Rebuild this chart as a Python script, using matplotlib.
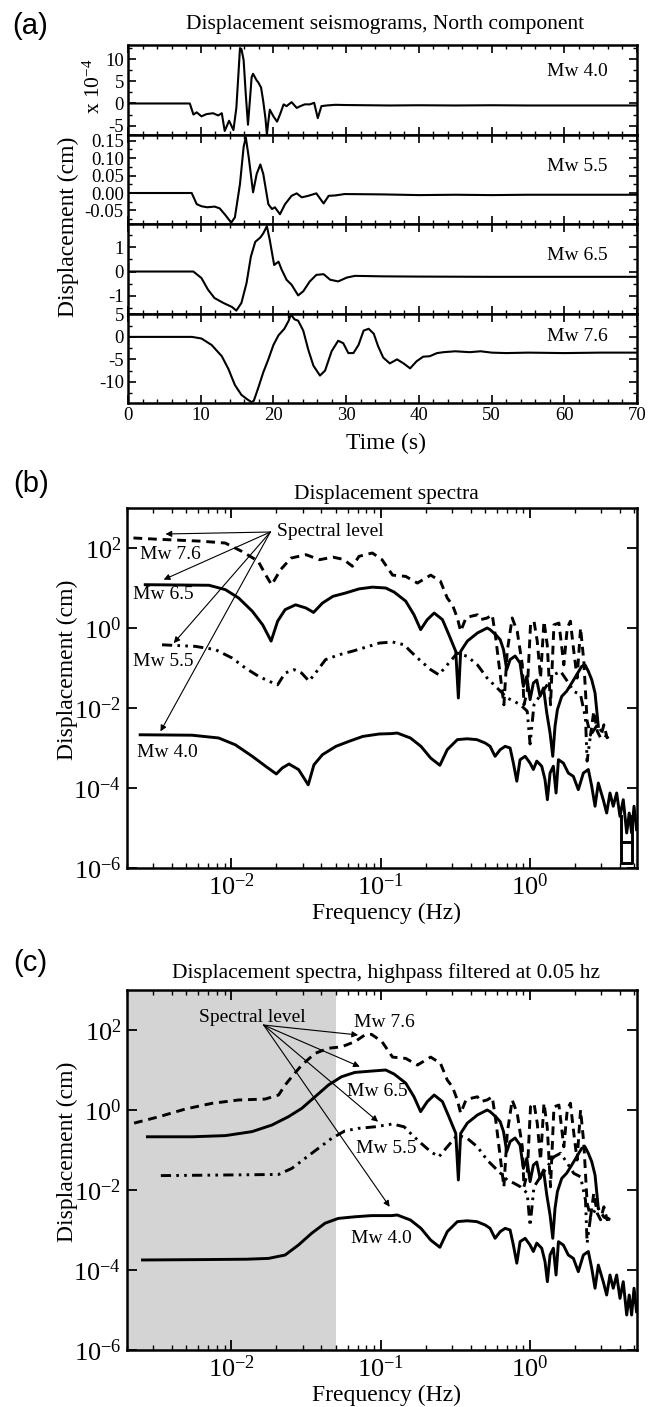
import numpy as np
import matplotlib
matplotlib.use('Agg')
import matplotlib.pyplot as plt
import matplotlib.ticker as ticker

params = {'font.family': 'Liberation Serif',
          'mathtext.fontset': 'custom',
          'mathtext.rm': 'Liberation Serif',
          'mathtext.it': 'Liberation Serif:italic',
          'mathtext.bf': 'Liberation Serif:bold',
          'axes.unicode_minus': False,
          'axes.linewidth': 1.8,
          'xtick.direction': 'in',
          'ytick.direction': 'in',
          'xtick.top': True,
          'ytick.right': True}
plt.rcParams.update(params)

W, H = 662, 1407

# ---- (a) seismograms ----
t40 = [0, 8.5, 9.0, 9.45, 10.1, 10.8, 11.7, 12.4, 12.9, 13.3, 13.9, 14.5, 14.9, 15.2, 15.4, 15.6,
       15.9, 16.2, 16.5, 16.8, 17.0, 17.2, 17.7, 17.9, 18.3, 18.6, 18.9, 19.1, 19.3, 19.5, 20.0,
       20.5, 20.9, 21.4, 21.8, 22.5, 23.2, 23.7, 24.3, 25.0, 25.6, 26.1, 26.6, 27.3, 28.5, 30,
       33, 36, 40, 45, 50, 55, 60, 65, 70]
d40 = [0, 0, -2.5, -2.0, -2.9, -2.4, -2.2, -2.7, -2.2, -6.2, -3.9, -6.0, -1.0, 7.0, 12.5, 12.3,
       9.8, 2.0, -4.8, 1.5, 5.9, 6.7, 5.2, 4.8, 3.6, 0.5, -3.3, -7.0, -4.1, -1.4, -2.9,
       -4.1, -2.5, -0.2, -0.6, 0.3, -1.0, -0.6, -0.2, -0.2, 0.15, -3.3, -0.6, -0.45, -0.3, -0.35,
       -0.4, -0.45, -0.4, -0.45, -0.4, -0.45, -0.45, -0.45, -0.45]

t55 = [0, 8.76, 9.45, 10.1, 10.9, 11.9, 12.6, 13.3, 14.2, 14.7, 15.4, 15.9, 16.2, 16.6, 17.2,
       17.7, 18.2, 18.6, 19.3, 19.8, 20.2, 20.9, 21.6, 22.5, 23.2, 23.9, 24.8, 25.9, 26.9, 27.6,
       28.5, 29.8, 35, 40, 45, 50, 55, 60, 65, 70]
d55 = [0, 0, -0.032, -0.038, -0.041, -0.039, -0.044, -0.061, -0.085, -0.070, 0.026, 0.132, 0.16,
       0.103, 0.002, 0.055, 0.082, 0.055, -0.032, -0.046, -0.041, -0.061, -0.032, -0.008, -0.001,
       -0.0125, -0.008, -0.001, -0.030, -0.008, -0.007, -0.003, -0.004, -0.006, -0.005, -0.006,
       -0.005, -0.005, -0.005, -0.005]

t65 = [0, 8.99, 10.1, 11.0, 11.9, 13.1, 14.3, 14.9, 15.6, 16.3, 16.9, 17.5, 18.2, 18.6, 19.1,
       19.5, 20.1, 20.7, 21.1, 21.8, 22.5, 23.4, 24.1, 25.0, 25.9, 26.9, 27.8, 28.9, 30.1, 31.2,
       35, 40, 50, 60, 70]
d65 = [0, 0, -0.27, -0.75, -1.10, -1.30, -1.47, -1.62, -1.30, -0.48, 0.62, 1.23, 1.41, 1.58,
       1.88, 1.30, 0.27, 0.41, 0.10, -0.34, -0.55, -0.99, -0.82, -0.41, -0.14, -0.11, -0.34,
       -0.41, -0.25, -0.18, -0.2, -0.21, -0.22, -0.22, -0.22]

t76 = [0, 8.8, 10.1, 11.5, 12.9, 13.8, 14.7, 15.6, 16.5, 17.0, 17.3, 17.9, 18.6, 19.3, 20.0,
       20.7, 21.5, 22.1, 22.4, 22.9, 23.4, 24.1, 24.8, 25.5, 26.4, 27.1, 28.0, 28.9, 29.6, 30.3,
       31.0, 31.7, 32.4, 33.1, 33.8, 34.4, 35.1, 36.0, 37.0, 37.9, 38.8, 39.7, 40.6, 41.5, 42.5,
       43.4, 45, 47, 48.5, 50, 52, 55, 60, 65, 70]
d76 = [0, 0, -0.36, -1.8, -4.3, -7.1, -10.7, -12.9, -14.0, -14.5, -14.2, -11.4, -7.9, -5.0, -1.8,
       0.36, 1.8, 3.6, 5.0, 3.9, 3.6, 1.4, -2.9, -6.4, -8.6, -7.5, -3.2, -0.86, -1.4, -3.6,
       -3.6, -1.8, 1.4, 1.8, 0.7, -2.1, -4.6, -5.9, -5.0, -5.9, -7.0, -5.4, -4.4, -4.3, -3.6,
       -3.4, -3.2, -3.4, -3.2, -3.5, -3.6, -3.5, -3.6, -3.5, -3.5]

seis_t = [t40, t55, t65, t76]
seis_d = [d40, d55, d65, d76]
seis_names = ['Mw 4.0', 'Mw 5.5', 'Mw 6.5', 'Mw 7.6']
seis_ylim = [(-7.0, 13.2), (-0.089, 0.168), (-1.74, 1.97), (-14.7, 5.2)]
seis_major = [5, 0.05, 1, 5]
seis_minor = [2.5, 0.025, 0.5, 2.5]
seis_fmt = ['%g', '%.2f', '%g', '%g']

# ---- (b)/(c) spectra ----
# low frequency part, raw spectra (b)
f76_raw = [0.00221, 0.00316, 0.0063, 0.0091, 0.0117, 0.0151, 0.0170, 0.0186, 0.0214, 0.0251,
           0.0316, 0.0389, 0.0479, 0.0562, 0.0646, 0.0716, 0.0879]
a76_raw = [178, 166, 148, 133, 83, 47, 21, 12, 29, 56, 68, 51, 59, 52, 35, 62, 75]
f65_raw = [0.00265, 0.00708, 0.00912, 0.0112, 0.0138, 0.0162, 0.01845, 0.0204, 0.0229, 0.0269,
           0.0316, 0.0355, 0.0407, 0.0479, 0.0582, 0.0716, 0.0879]
a65_raw = [12.1, 11.7, 9.1, 5.6, 2.63, 1.2, 0.47, 1.48, 2.88, 3.8, 3.16, 2.45, 4.2, 6.2, 7.5,
           9.5, 10.5]
f55_raw = [0.00343, 0.00575, 0.00782, 0.0101, 0.0124, 0.01524, 0.0178, 0.0204, 0.0229, 0.0263,
           0.0295, 0.0331, 0.0366, 0.0427, 0.0525, 0.0646, 0.0794, 0.0977]
a55_raw = [0.38, 0.347, 0.288, 0.178, 0.1, 0.0617, 0.047, 0.038, 0.075, 0.091, 0.075, 0.047,
           0.075, 0.162, 0.214, 0.263, 0.331, 0.42]
f40_raw = [0.00245, 0.00544, 0.00822, 0.01064, 0.0138, 0.017, 0.020, 0.0219, 0.0243, 0.0282,
           0.0327, 0.0357, 0.0407, 0.0501, 0.0617, 0.0759, 0.0977]
a40_raw = [2.14e-3, 2.09e-3, 1.78e-3, 1.2e-3, 6.2e-4, 3.47e-4, 2.24e-4, 3.16e-4, 3.98e-4,
           2.88e-4, 1.2e-4, 3.8e-4, 6.8e-4, 1.1e-3, 1.48e-3, 1.95e-3, 2.24e-3]
# little box drawn at the end of the Mw 4.0 trace in (b)
box_f = [4.05, 4.05, 4.85, 4.85, np.nan, 4.05, 4.85]
box_a = [2.0e-5, 1.3e-6, 1.3e-6, 2.0e-5, np.nan, 4.5e-6, 4.5e-6]

# low frequency part, highpass filtered spectra (c)
f76_filt = [0.00223, 0.00328, 0.00493, 0.00743, 0.0112, 0.01687, 0.0207, 0.0229, 0.0254, 0.0296,
            0.0363, 0.0446, 0.0547, 0.0671, 0.0782, 0.0867]
a76_filt = [0.47, 0.68, 1.06, 1.47, 1.78, 1.88, 2.37, 4.2, 6.8, 13.3, 26, 35, 38, 51, 75, 78]
f65_filt = [0.00274, 0.00547, 0.00912, 0.01374, 0.01866, 0.0241, 0.0296, 0.0363, 0.0446, 0.0547,
            0.0671, 0.0867]
a65_filt = [0.214, 0.214, 0.229, 0.288, 0.42, 0.68, 1.1, 2.14, 4.2, 6.8, 8.7, 9.4]
f55_filt = [0.00337, 0.0063, 0.0126, 0.0207, 0.0254, 0.0311, 0.0382, 0.0469, 0.0575, 0.0706,
            0.0912]
a55_filt = [0.0229, 0.0234, 0.024, 0.0245, 0.0347, 0.0617, 0.11, 0.195, 0.3, 0.347, 0.38]
f40_filt = [0.00254, 0.0063, 0.0126, 0.01774, 0.0229, 0.0281, 0.0345, 0.0424, 0.052, 0.0671,
            0.0867]
a40_filt = [1.78e-4, 1.82e-4, 1.86e-4, 1.95e-4, 2.37e-4, 4.2e-4, 8.3e-4, 1.48e-3, 1.95e-3,
            2.14e-3, 2.29e-3]

# high frequency part, the same in (b) and (c)
f76_hi = [0.102, 0.120, 0.147, 0.176, 0.216, 0.251, 0.279, 0.302, 0.326, 0.343, 0.372, 0.40,
          0.444, 0.468, 0.516, 0.558, 0.589, 0.635, 0.668, 0.703, 0.759, 0.82, 0.887, 0.91,
          0.957, 1.007, 1.062, 1.117, 1.175, 1.239, 1.303, 1.371, 1.445, 1.56, 1.683, 1.774,
          1.862, 1.963, 2.065, 2.178, 2.29, 2.41, 2.54, 2.67, 2.82, 2.965, 3.12, 3.28, 3.45]
a76_hi = [51, 21, 19.5, 13.3, 21, 14.8, 5.6, 3.8, 1.78, 0.83, 1.78, 1.95, 2.14, 1.62, 1.78,
          2.14, 0.56, 0.056, 0.012, 0.26, 1.78, 0.83, 0.12, 0.012, 0.026, 1.2, 1.48, 0.47, 0.056,
          1.48, 0.38, 0.012, 1.2, 1.33, 0.12, 1.0, 1.48, 0.26, 0.056, 1.0, 0.148, 0.0047, 0.0021,
          0.0083, 0.0026, 0.0018, 0.0038, 0.0018, 0.0021]
f65_hi = [0.108, 0.123, 0.147, 0.167, 0.185, 0.205, 0.228, 0.259, 0.286, 0.318, 0.331, 0.343,
          0.38, 0.444, 0.516, 0.54, 0.589, 0.631, 0.664, 0.698, 0.735, 0.794, 0.857, 0.902,
          0.951, 1.0, 1.052, 1.109, 1.167, 1.23, 1.294, 1.361, 1.419, 1.469, 1.524, 1.629, 1.758,
          1.901, 2.051, 2.218, 2.333, 2.455, 2.588, 2.723, 2.793, 2.864]
a65_hi = [10, 7.9, 4.7, 2.14, 0.91, 1.62, 2.37, 1.62, 0.68, 0.26, 0.0178, 0.26, 0.47, 0.75, 1.0,
          0.91, 0.68, 0.51, 0.288, 0.091, 0.162, 0.2, 0.133, 0.0347, 0.0617, 0.0162, 0.042, 0.05,
          0.0195, 0.0316, 0.0075, 0.00237, 6.2e-4, 0.00347, 0.0091, 0.0195, 0.0263, 0.042,
          0.0676, 0.11, 0.12, 0.083, 0.051, 0.0237, 0.0091, 0.00347]
f55_hi = [0.12, 0.1435, 0.158, 0.186, 0.216, 0.245, 0.279, 0.326, 0.38, 0.444, 0.516, 0.573,
          0.635, 0.703, 0.78, 0.863, 0.957, 1.0, 1.062, 1.175, 1.303, 1.445, 1.6, 1.774, 1.963,
          2.178, 2.35, 2.41, 2.54, 2.82, 3.12, 3.45]
a55_hi = [0.447, 0.38, 0.263, 0.148, 0.091, 0.0676, 0.12, 0.237, 0.195, 0.12, 0.056, 0.038,
          0.026, 0.0178, 0.0148, 0.012, 0.0083, 0.00126, 0.012, 0.0214, 0.038, 0.0676, 0.083,
          0.047, 0.026, 0.0214, 0.0056, 0.00047, 0.0021, 0.0038, 0.0021, 0.0018]
f40_hi = [0.118, 0.129, 0.158, 0.186, 0.216, 0.249, 0.279, 0.326, 0.38, 0.44, 0.501, 0.54,
          0.583, 0.631, 0.681, 0.735, 0.773, 0.815, 0.857, 0.927, 1.0, 1.052, 1.109, 1.197, 1.259,
          1.306, 1.361, 1.432, 1.493, 1.549, 1.671, 1.803, 1.95, 2.104, 2.275, 2.455, 2.588,
          2.723, 2.864, 3.09, 3.258, 3.428, 3.606, 3.8, 4.0, 4.207, 4.436, 4.613, 4.786, 4.966,
          5.164]
a40_hi = [2.29e-3, 2.37e-3, 1.78e-3, 1.1e-3, 5.6e-4, 3.7e-4, 9.1e-4, 1.62e-3, 1.7e-3, 1.62e-3,
          1.33e-3, 1.1e-3, 6.2e-4, 9.1e-4, 1.1e-3, 1.0e-3, 4.2e-4, 1.48e-4, 5.1e-4, 6.2e-4,
          4.2e-4, 2.9e-4, 4.7e-4, 3.5e-4, 1.62e-4, 5.1e-5, 2.37e-4, 3.5e-4, 7.5e-5, 5.1e-4,
          4.2e-4, 2.37e-4, 1.95e-4, 9.1e-5, 2.37e-4, 2.9e-4, 1.1e-4, 3.5e-5, 1.33e-4, 5.1e-5,
          2.37e-5, 7.5e-5, 3.5e-5, 7.5e-5, 1.95e-5, 5.1e-5, 7.5e-6, 2.37e-5, 7.5e-6, 3.5e-5,
          9.1e-6]

spec_names = ['Mw 7.6', 'Mw 6.5', 'Mw 5.5', 'Mw 4.0']
spec_raw = [(f76_raw, a76_raw), (f65_raw, a65_raw), (f55_raw, a55_raw), (f40_raw, a40_raw)]
spec_filt = [(f76_filt, a76_filt), (f65_filt, a65_filt), (f55_filt, a55_filt), (f40_filt, a40_filt)]
spec_hi = [(f76_hi, a76_hi), (f65_hi, a65_hi), (f55_hi, a55_hi), (f40_hi, a40_hi)]
spec_style = [dict(ls=(0, (3, 2))), dict(ls='-'), dict(ls=(0, (3.5, 1.8, 0.9, 1.8, 0.9, 1.8))),
              dict(ls='-')]

# arrows "Spectral level": start, then ends for 7.6, 6.5, 5.5, 4.0
arrow_b_from = (0.01824, 251)
arrow_b_to = [(0.00362, 224), (0.00352, 16.2), (0.00411, 0.42), (0.00335, 0.0026)]
label_b_pos = [(0.00246, 68), (0.00221, 6.8), (0.00221, 0.144), (0.00235, 7.6e-4)]
arrow_c_from = (0.01644, 133)
arrow_c_to = [(0.0706, 75), (0.0724, 12.1), (0.096, 0.51), (0.1148, 3.8e-3)]
label_c_pos = [(0.0667, 158), (0.059, 2.82), (0.0687, 0.112), (0.0637, 6.3e-4)]


def fx(px):
    return px / W


def fy(py):
    return 1 - py / H


fig = plt.figure(figsize=(W / 100, H / 100), dpi=100)

# ---------------- panel (a) ----------------
sub_h = 89.5
axs = []
for i in range(4):
    bot = 45 + (i + 1) * sub_h
    ax = fig.add_axes([fx(128), fy(bot), fx(509), sub_h / H])
    ax.plot(seis_t[i], seis_d[i], color='k', lw=1.5)
    ax.set_xlim(0, 70)
    ax.set_ylim(*seis_ylim[i])
    ax.xaxis.set_major_locator(ticker.MultipleLocator(10))
    ax.xaxis.set_minor_locator(ticker.MultipleLocator(2))
    ax.yaxis.set_major_locator(ticker.MultipleLocator(seis_major[i]))
    ax.yaxis.set_minor_locator(ticker.MultipleLocator(seis_minor[i]))
    ax.yaxis.set_major_formatter(ticker.FormatStrFormatter(seis_fmt[i]))
    ax.tick_params(which='major', length=5.5, width=1.2, labelsize=13.5, pad=3)
    ax.tick_params(which='minor', length=3, width=1.0)
    ax.tick_params(axis='x', which='both', top=True, bottom=True)
    if i < 3:
        ax.tick_params(axis='x', labelbottom=False)
    ax.text(0.942, [0.70, 0.644, 0.65, 0.74][i], seis_names[i], transform=ax.transAxes,
            ha='right', va='center', fontsize=14)
    axs.append(ax)

fig.text(fx(385), fy(25), 'Displacement seismograms, North component', ha='center', va='center',
         fontsize=15.5)
fig.text(fx(12), fy(26), '(a)', ha='left', va='center', fontsize=21, family='Liberation Sans')
fig.text(fx(386), fy(443), 'Time (s)', ha='center', va='center', fontsize=17)
fig.text(fx(68), fy(227), 'Displacement (cm)', ha='center', va='center', rotation=90, fontsize=17)
fig.text(fx(94), fy(86), 'x 10$^{-4}$', ha='center', va='center', rotation=90, fontsize=15.5)


# ---------------- panels (b) and (c) ----------------
def spectra_axes(top_px, low_parts, title, letter, letter_y, title_y, shade):
    ax = fig.add_axes([fx(127), fy(top_px + 360), fx(510), 360 / H])
    if shade:
        ax.axvspan(0.002, 0.05, color='#d4d4d4', lw=0, zorder=0)
    for (fl, al), (fh, ah), st in zip(low_parts, spec_hi, spec_style):
        ax.plot(fl + fh, al + ah, color='k', lw=2.1, **st)
    ax.set_xscale('log')
    ax.set_yscale('log')
    ax.set_xlim(0.002, 5.2)
    ax.set_ylim(1e-6, 1e3)
    ax.yaxis.set_major_locator(ticker.FixedLocator([1e-6, 1e-4, 1e-2, 1, 1e2]))
    ax.yaxis.set_minor_locator(ticker.NullLocator())
    ax.xaxis.set_major_locator(ticker.LogLocator(base=10, numticks=10))
    ax.xaxis.set_minor_locator(ticker.LogLocator(base=10, subs=np.arange(2, 10), numticks=20))
    ax.xaxis.set_minor_formatter(ticker.NullFormatter())
    ax.tick_params(which='major', length=7, width=1.3, labelsize=19, pad=4)
    ax.tick_params(which='minor', length=3.5, width=1.0)
    ax.tick_params(axis='x', which='both', top=True, bottom=True)
    fig.text(fx(386), fy(title_y), title, ha='center', va='center', fontsize=15.5)
    fig.text(fx(13), fy(letter_y), letter, ha='left', va='center', fontsize=21,
             family='Liberation Sans')
    fig.text(fx(386), fy(top_px + 405), 'Frequency (Hz)', ha='center', va='center', fontsize=17)
    fig.text(fx(67), fy(top_px + 162), 'Displacement (cm)', ha='center', va='center',
             rotation=90, fontsize=17)
    return ax


axb = spectra_axes(508, spec_raw, 'Displacement spectra', '(b)', 484, 495, False)
axb.plot(box_f, box_a, color='k', lw=2.1)
for end in arrow_b_to:
    axb.annotate('', xy=end, xytext=arrow_b_from,
                 arrowprops=dict(arrowstyle='-|>', lw=0.8, color='k', mutation_scale=9,
                                 shrinkA=0, shrinkB=0))
axb.text(0.0202, 260, 'Spectral level', ha='left', va='center', fontsize=14)
for name, pos in zip(spec_names, label_b_pos):
    axb.text(pos[0], pos[1], name, ha='left', va='center', fontsize=14)

axc = spectra_axes(990, spec_filt, 'Displacement spectra, highpass filtered at 0.05 hz', '(c)',
                   963, 973, True)
for end in arrow_c_to:
    axc.annotate('', xy=end, xytext=arrow_c_from,
                 arrowprops=dict(arrowstyle='-|>', lw=0.8, color='k', mutation_scale=9,
                                 shrinkA=0, shrinkB=0))
axc.text(0.0138, 211, 'Spectral level', ha='center', va='center', fontsize=14)
for name, pos in zip(spec_names, label_c_pos):
    axc.text(pos[0], pos[1], name, ha='left', va='center', fontsize=14)

fig.savefig('out.png', dpi=100)
